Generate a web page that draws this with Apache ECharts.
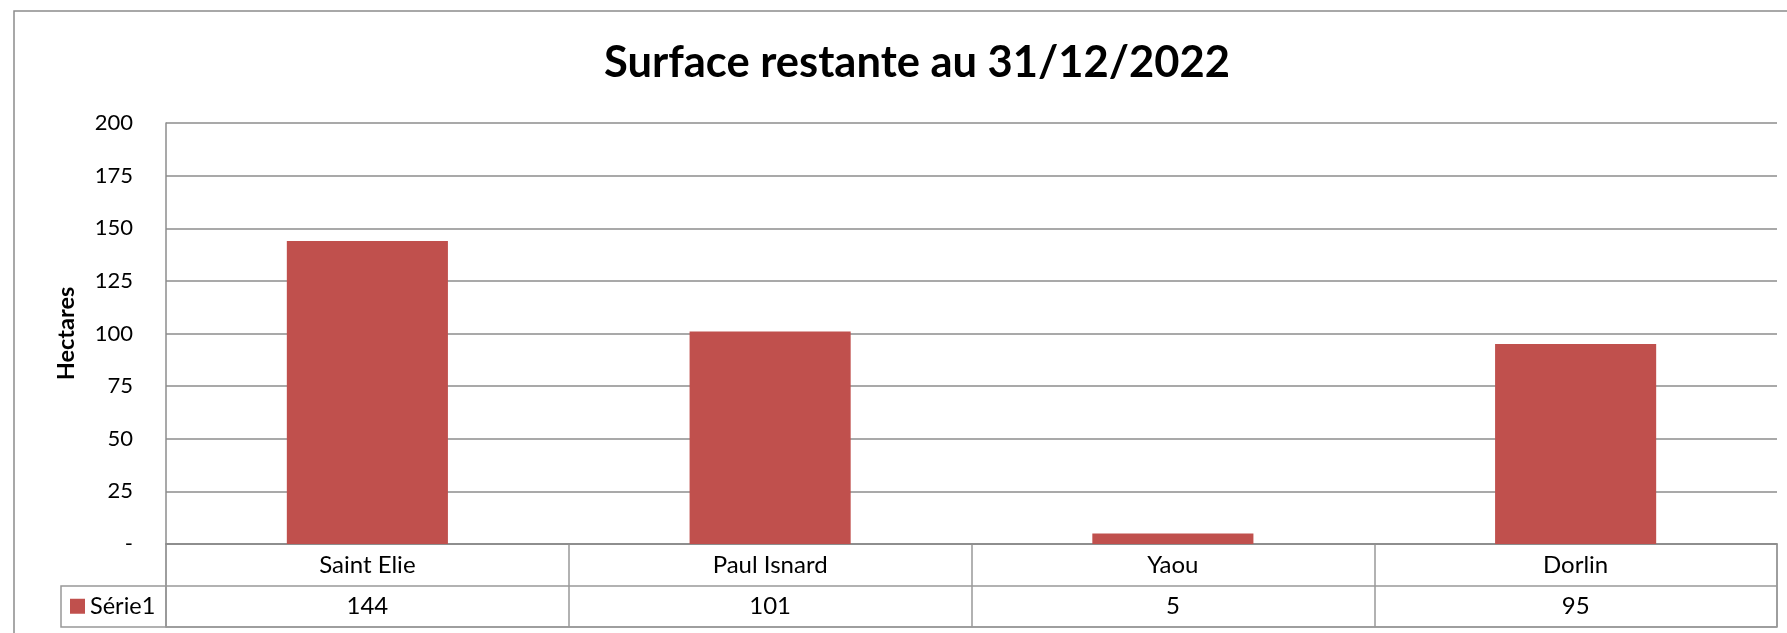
<!DOCTYPE html>
<html>
<head>
<meta charset="utf-8">
<script src="https://cdn.jsdelivr.net/npm/echarts@6/dist/echarts.min.js"></script>
<style>
  html, body { margin: 0; padding: 0; background: #fff; }
  #chart { width: 1787px; height: 633px; }
</style>
</head>
<body>
<div id="chart"></div>
<script>
const categories = ['Saint Elie', 'Paul Isnard', 'Yaou', 'Dorlin'];
const values = [144, 101, 5, 95];
const seriesName = 'Série1';
const titleText = 'Surface restante au 31/12/2022';
const yAxisName = 'Hectares';
const yMin = 0, yMax = 200, yInterval = 25;

const FONT = 'Lato';
const GRID = '#8c8c8c';
const TABLE = '#989898';
const BAR = '#C0504D';

// font size such that a sample text has the width it has in the reference
const ctx = document.createElement('canvas').getContext('2d');
function fit(text, target, weight) {
  ctx.font = (weight || 'normal') + ' 100px ' + FONT;
  const w = ctx.measureText(text).width;
  return Math.round(100 * target / w * 2) / 2;
}
const fsTitle = fit(titleText, 629, 'bold');
const fsTick = fit('125', 38);
const fsCat = fit('Paul Isnard', 114);
const fsLeg = fit(seriesName, 66);
const fsName = fit(yAxisName, 94, 'bold');

const chart = echarts.init(document.getElementById('chart'));
chart.setOption({
  animation: false,
  backgroundColor: '#fff',
  textStyle: { fontFamily: FONT },
  graphic: [{
    type: 'rect',
    shape: { x: 14, y: 11, width: 1795, height: 700 },
    style: { fill: 'none', stroke: GRID, lineWidth: 1.5 },
    silent: true, z: -1
  }],
  title: {
    text: titleText,
    left: 912, top: 58 - fsTitle / 2, textAlign: 'center',
    textStyle: { fontFamily: FONT, fontWeight: 'bold', fontSize: fsTitle, color: '#000' }
  },
  legend: {
    data: [seriesName],
    left: 70, top: 606 - Math.max(15, fsLeg) / 2, padding: 0,
    icon: 'rect', itemWidth: 15, itemHeight: 15,
    textStyle: { fontFamily: FONT, fontSize: fsLeg, color: '#000' },
    selectedMode: false
  },
  grid: [
    { left: 166, right: 10, top: 123, bottom: 89, containLabel: false },
    { left: 166, right: 10, top: 544, bottom: 6, show: true, borderColor: TABLE, borderWidth: 1.5 },
    { left: 61, width: 105, top: 586, bottom: 6, show: true, borderColor: TABLE, borderWidth: 1.5 }
  ],
  xAxis: [
    {
      type: 'category', gridIndex: 0, data: categories,
      axisLine: { show: true, lineStyle: { color: GRID, width: 1.5 } },
      axisTick: { show: false },
      axisLabel: { fontFamily: FONT, fontSize: fsCat, color: '#000', margin: 21 - fsCat / 2 }
    },
    {
      type: 'category', gridIndex: 0, position: 'bottom', offset: 42,
      data: values.map(String),
      axisLine: { show: false }, axisTick: { show: false },
      axisLabel: { fontFamily: FONT, fontSize: fsCat, color: '#000', margin: 20.5 - fsCat / 2 }
    },
    {
      type: 'category', gridIndex: 1, data: categories,
      axisLine: { show: false }, axisTick: { show: false }, axisLabel: { show: false },
      splitLine: { show: true, lineStyle: { color: TABLE, width: 1.5 } }
    },
    {
      type: 'category', gridIndex: 2, data: [seriesName],
      show: false
    }
  ],
  yAxis: [
    {
      type: 'value', gridIndex: 0, min: yMin, max: yMax, interval: yInterval,
      name: yAxisName, nameLocation: 'middle', nameRotate: 90, nameGap: 88,
      nameTextStyle: { fontFamily: FONT, fontWeight: 'bold', fontSize: fsName, color: '#000' },
      axisLine: { show: true, lineStyle: { color: GRID, width: 1.5 } },
      axisTick: { show: false },
      axisLabel: {
        fontFamily: FONT, fontSize: fsTick, color: '#000', margin: 33,
        formatter: v => (v === 0 ? '-' : String(v))
      },
      splitLine: { show: true, lineStyle: { color: GRID, width: 1.5 } }
    },
    {
      type: 'value', gridIndex: 1, min: 0, max: 2, interval: 1,
      axisLine: { show: false }, axisTick: { show: false }, axisLabel: { show: false },
      splitLine: { show: true, lineStyle: { color: TABLE, width: 1.5 } }
    },
    {
      type: 'value', gridIndex: 2, show: false
    }
  ],
  series: [{
    name: seriesName,
    type: 'bar',
    xAxisIndex: 0, yAxisIndex: 0,
    data: values,
    barWidth: '40%',
    itemStyle: { color: BAR }
  }]
});
</script>
</body>
</html>
